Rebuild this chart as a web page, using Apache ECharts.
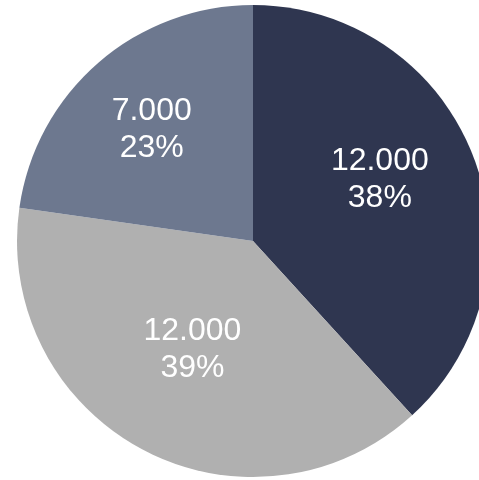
<!DOCTYPE html>
<html>
<head>
<meta charset="utf-8">
<script src="https://cdn.jsdelivr.net/npm/echarts@6/dist/echarts.min.js"></script>
<style>
html,body{margin:0;padding:0;background:#fff;}
#chart{width:479px;height:480px;}
</style>
</head>
<body>
<div id="chart"></div>
<script>
// Data (values rounded to thousands in the labels)
var categories = ['A', 'B', 'C'];
var values = [11850, 12100, 7050];
var colors = ['#2f3650', '#b0b0b0', '#6d788f'];
// small label nudges (px) to match the reference label placement
var labelNudgeX = [14, -4, -22];
var labelNudgeY = [-18, 2, -20];

function fmtThousands(v) {
  return Math.round(v / 1000) + '.000';
}

var chart = echarts.init(document.getElementById('chart'), null, {renderer: 'canvas'});
chart.setOption({
  animation: false,
  backgroundColor: '#ffffff',
  series: [{
    type: 'pie',
    center: [253, 241],
    radius: [0, 236],
    startAngle: 90,
    clockwise: true,
    avoidLabelOverlap: false,
    percentPrecision: 0,
    data: categories.map(function (c, i) {
      return {name: c, value: values[i], itemStyle: {color: colors[i]}};
    }),
    itemStyle: {borderWidth: 0},
    label: {
      show: true,
      position: 'inside',
      color: '#ffffff',
      fontFamily: 'Liberation Sans, Arial, sans-serif',
      fontSize: 32,
      lineHeight: 37,
      formatter: function (p) {
        return fmtThousands(p.value) + '\n' + p.percent + '%';
      }
    },
    labelLine: {show: false},
    labelLayout: function (p) {
      return {dx: labelNudgeX[p.dataIndex], dy: labelNudgeY[p.dataIndex]};
    },
    emphasis: {disabled: true}
  }]
});
</script>
</body>
</html>
